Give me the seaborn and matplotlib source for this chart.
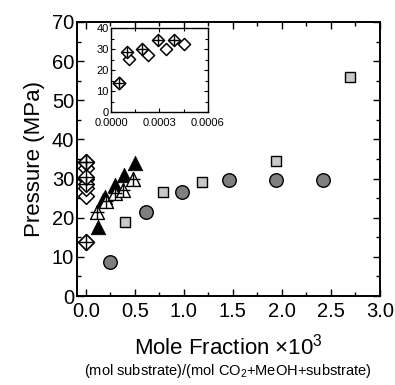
import numpy as np
import pandas as pd
import matplotlib
matplotlib.use("Agg")
import matplotlib.pyplot as plt
from matplotlib.ticker import MultipleLocator
import seaborn as sns

# ---- data (mole fraction x10^3, pressure MPa) ----
circ_x = [0.25, 0.61, 0.98, 1.46, 1.94, 2.42]
circ_y = [8.6, 21.5, 26.5, 29.6, 29.7, 29.7]

sq_x = [0.40, 0.79, 1.18, 1.94, 2.69]
sq_y = [18.8, 26.7, 29.2, 34.6, 55.9]

tri_x = [0.12, 0.17, 0.20, 0.30, 0.39, 0.50]
tri_y = [17.7, 24.6, 25.3, 28.4, 30.9, 34.1]

ctri_x = [0.11, 0.21, 0.30, 0.38, 0.48]
ctri_y = [21.5, 24.3, 26.2, 27.1, 29.8]

cdia_x = [0.00005, 0.00010, 0.00019, 0.00029, 0.00039]
cdia_y = [13.7, 28.7, 30.3, 34.3, 34.3]

odia_x = [0.00005, 0.000114, 0.000228, 0.00034, 0.000455]
odia_y = [13.7, 25.6, 27.5, 30.0, 32.7]

sns.set_theme(style="ticks")
plt.rcParams['font.family'] = ['Liberation Sans', 'DejaVu Sans']
plt.rcParams['mathtext.fontset'] = 'custom'
plt.rcParams['mathtext.rm'] = 'Liberation Sans'
plt.rcParams['mathtext.it'] = 'Liberation Sans:italic'
for k in ['text.color', 'axes.labelcolor', 'xtick.color', 'ytick.color',
          'axes.edgecolor']:
    plt.rcParams[k] = 'black'

fig = plt.figure(figsize=(3.95, 3.85), dpi=100)
ax = fig.add_axes([0.195, 0.231, 0.767, 0.712])


def draw(a, scale=1.0):
    kw = dict(ax=a, legend=False, zorder=3)
    sns.scatterplot(x=odia_x, y=odia_y, marker='D', s=38 * scale,
                    facecolor='white', edgecolor='black', linewidth=1.1, **kw)
    sns.scatterplot(x=cdia_x, y=cdia_y, marker='D', s=38 * scale,
                    facecolor='white', edgecolor='black', linewidth=1.1, **kw)
    sns.scatterplot(x=cdia_x, y=cdia_y, marker='+', s=60 * scale,
                    color='black', linewidth=1.0, **kw)


# main plot series
sns.scatterplot(x=circ_x, y=circ_y, ax=ax, marker='o', s=95, color='#7f7f7f',
                edgecolor='black', linewidth=1.0, legend=False, zorder=3)
sns.scatterplot(x=sq_x, y=sq_y, ax=ax, marker='s', s=62, color='#c8c8c8',
                edgecolor='black', linewidth=1.0, legend=False, zorder=3)
sns.scatterplot(x=tri_x, y=tri_y, ax=ax, marker='^', s=110, color='black',
                edgecolor='black', linewidth=0.5, legend=False, zorder=3)
sns.scatterplot(x=ctri_x, y=ctri_y, ax=ax, marker='^', s=100, facecolor='white',
                edgecolor='black', linewidth=1.0, legend=False, zorder=3)
sns.scatterplot(x=ctri_x, y=ctri_y, ax=ax, marker='+', s=110, color='black',
                linewidth=1.0, legend=False, zorder=4)
draw(ax, 1.7)

ax.set_xlim(-0.09, 3.0)
ax.set_ylim(0, 70)
ax.xaxis.set_major_locator(MultipleLocator(0.5))
ax.xaxis.set_minor_locator(MultipleLocator(0.25))
ax.yaxis.set_major_locator(MultipleLocator(10))
ax.yaxis.set_minor_locator(MultipleLocator(5))
ax.xaxis.set_major_formatter(matplotlib.ticker.FormatStrFormatter('%.1f'))
ax.tick_params(which='both', direction='in', top=True, right=True,
               labelsize=14.5, color='black', width=1.0)
ax.tick_params(which='major', length=5, pad=2)
ax.tick_params(which='minor', length=3)
ax.tick_params(axis='x', which='major', pad=4)
for sp in ax.spines.values():
    sp.set_linewidth(1.4)
    sp.set_color('black')
ax.set_ylabel('Pressure (MPa)', fontsize=16, labelpad=5)
ax.set_xlabel(r'Mole Fraction $\times$10$^3$', fontsize=16, labelpad=9)
fig.text(0.578, 0.012, r'(mol substrate)/(mol CO$_2$+MeOH+substrate)',
         ha='center', va='bottom', fontsize=10.5)

# inset
ins = fig.add_axes([0.281, 0.709, 0.245, 0.217])
draw(ins, 1.0)
ins.set_xlim(0, 0.0006)
ins.set_ylim(0, 40)
ins.xaxis.set_major_locator(MultipleLocator(0.0003))
ins.xaxis.set_minor_locator(MultipleLocator(0.00015))
ins.yaxis.set_major_locator(MultipleLocator(10))
ins.yaxis.set_minor_locator(MultipleLocator(5))
ins.xaxis.set_major_formatter(matplotlib.ticker.FormatStrFormatter('%.4f'))
ins.tick_params(which='both', direction='in', top=True, right=True,
                labelsize=8, color='black', width=0.8)
ins.tick_params(axis='x', which='major', pad=4)
ins.tick_params(axis='y', which='major', pad=1.5)
ins.tick_params(which='major', length=3)
ins.tick_params(which='minor', length=2)
for sp in ins.spines.values():
    sp.set_linewidth(1.0)
    sp.set_color('black')

fig.savefig('out.png', dpi=100)
